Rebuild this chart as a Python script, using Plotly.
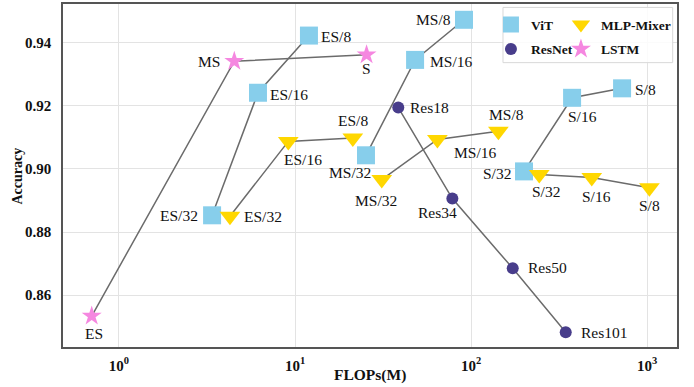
import numpy as np
import plotly.graph_objects as go

# ---------------- data ----------------
vit_labels = ["ES/32", "ES/16", "ES/8", "MS/32", "MS/16", "MS/8", "S/32", "S/16", "S/8"]
vit_flops = [3.38, 6.16, 12.0, 25.3, 48.1, 91.2, 200, 375, 721]
vit_acc = [0.8853, 0.9241, 0.9422, 0.9043, 0.9345, 0.9472, 0.8992, 0.9225, 0.9255]

mlp_labels = ["ES/32", "ES/16", "ES/8", "MS/32", "MS/16", "MS/8", "S/32", "S/16", "S/8"]
mlp_flops = [4.27, 9.16, 21.3, 31.1, 64.4, 143, 244, 485, 1031]
mlp_acc = [0.8850, 0.9087, 0.9098, 0.8966, 0.9093, 0.9119, 0.8982, 0.8973, 0.8940]

res_labels = ["Res18", "Res34", "Res50", "Res101"]
res_flops = [38.6, 78.3, 172.5, 345]
res_acc = [0.9194, 0.8906, 0.8685, 0.8483]

lstm_labels = ["ES", "MS", "S"]
lstm_flops = [0.70, 4.52, 25.5]
lstm_acc = [0.8534, 0.9341, 0.9361]

x_tickvals = [1, 10, 100, 1000]
x_ticktext = ["10<sup>0</sup>", "10<sup>1</sup>", "10<sup>2</sup>", "10<sup>3</sup>"]
y_tickvals = [0.86, 0.88, 0.90, 0.92, 0.94]

# ---------------- styling (label offsets in px: anchor, dx, dy) ----------------
SERIF = "Liberation Serif"
LINE = dict(color="#6b6b6b", width=1.5)

vit_off = {
    "ES/32": ("right", -12, 0), "ES/16": ("left", 10, -2), "ES/8": ("left", 10, -1),
    "MS/32": ("center", -16, -17), "MS/16": ("left", 13, -2), "MS/8": ("right", -11, 0),
    "S/32": ("right", -11, -2), "S/16": ("center", 10, -19), "S/8": ("left", 11, -1),
}
mlp_off = {
    "ES/32": ("left", 12, 0), "ES/16": ("center", 15, -18), "ES/8": ("center", 0, 17),
    "MS/32": ("center", -6, -21), "MS/16": ("center", 38, -13), "MS/8": ("center", 8, 17),
    "S/32": ("center", 7, -17), "S/16": ("center", 5, -19), "S/8": ("center", 0, -18),
}
res_off = {
    "Res18": ("left", 10, 0), "Res34": ("center", -15, -14),
    "Res50": ("left", 13, 1), "Res101": ("left", 13, 0),
}
lstm_off = {
    "ES": ("center", 2, -17), "MS": ("right", -12, 0), "S": ("center", 0, -14),
}


def split_groups(xs, ys, groups):
    """Insert None breaks between groups of consecutive points."""
    ox, oy = [], []
    for gi, g in enumerate(groups):
        if gi:
            ox.append(None)
            oy.append(None)
        for i in g:
            ox.append(xs[i])
            oy.append(ys[i])
    return ox, oy


fig = go.Figure()

series = [
    ("ViT", vit_flops, vit_acc, [[0, 1, 2], [3, 4, 5], [6, 7, 8]],
     dict(symbol="square", size=18, color="#87CEEB"), "legend", "g1"),
    ("MLP-Mixer", mlp_flops, mlp_acc, [[0, 1, 2], [3, 4, 5], [6, 7, 8]],
     dict(symbol="triangle-down", size=18, color="#FFD700"), "legend2", "g2"),
    ("ResNet", res_flops, res_acc, [[0, 1, 2, 3]],
     dict(symbol="circle", size=12, color="#483D8B"), "legend", "g3"),
    ("LSTM", lstm_flops, lstm_acc, [[0, 1, 2]],
     dict(symbol="star", size=15, color="#F587E0"), "legend2", "g4"),
]

# connecting lines first (below all markers)
for name, fx, fy, groups, mk, lg, grp in series:
    gx, gy = split_groups(fx, fy, groups)
    fig.add_trace(go.Scatter(
        x=gx, y=gy, mode="lines", line=LINE, showlegend=False,
        connectgaps=False, hoverinfo="skip",
    ))

# markers
for name, fx, fy, groups, mk, lg, grp in series:
    fig.add_trace(go.Scatter(
        x=fx, y=fy, mode="markers", name=name,
        marker=dict(line=dict(width=0), **mk),
        legend=lg, legendgroup=grp,
    ))

annotations = []
for labels, fx, fy, offs in [
    (vit_labels, vit_flops, vit_acc, vit_off),
    (mlp_labels, mlp_flops, mlp_acc, mlp_off),
    (res_labels, res_flops, res_acc, res_off),
    (lstm_labels, lstm_flops, lstm_acc, lstm_off),
]:
    for lab, xv, yv in zip(labels, fx, fy):
        anc, dx, dy = offs[lab]
        annotations.append(dict(
            x=np.log10(xv), y=yv, xref="x", yref="y", text=lab, showarrow=False,
            xanchor=anc, yanchor="middle", xshift=dx, yshift=dy,
            font=dict(family=SERIF, size=15.5, color="#111111"),
        ))

TITLE_FONT = dict(family=SERIF, size=15.5, weight="bold", color="#111111")
annotations.append(dict(
    x=0.5, y=-0.0816, xref="paper", yref="paper", text="FLOPs(M)",
    showarrow=False, xanchor="center", yanchor="middle", font=TITLE_FONT,
))
annotations.append(dict(
    x=-0.0733, y=0.5, xref="paper", yref="paper", text="Accuracy", textangle=-90,
    showarrow=False, xanchor="center", yanchor="middle",
    font=dict(family=SERIF, size=14, weight="bold", color="#111111"),
))

LEG_FONT = dict(family=SERIF, size=13.5, weight="bold", color="#111111")

fig.update_layout(
    width=694, height=387,
    margin=dict(l=63, r=17, t=4, b=40, autoexpand=False),
    paper_bgcolor="white", plot_bgcolor="white",
    font=dict(family=SERIF, color="#111111"),
    annotations=annotations,
    showlegend=True,
    legend=dict(
        x=0.697, y=0.985, xanchor="left", yanchor="top",
        bgcolor="rgba(0,0,0,0)", borderwidth=0, tracegroupgap=4,
        itemwidth=30, font=LEG_FONT,
    ),
    legend2=dict(
        x=0.811, y=0.985, xanchor="left", yanchor="top",
        bgcolor="rgba(0,0,0,0)", borderwidth=0, tracegroupgap=4,
        itemwidth=30, font=LEG_FONT,
    ),
    shapes=[dict(
        type="rect", xref="paper", yref="paper",
        x0=0.7166, x1=0.993, y0=0.829, y1=0.990,
        line=dict(color="#d8d8d8", width=1), fillcolor="rgba(255,255,255,0.85)",
        layer="above",
    )],
)

fig.update_xaxes(
    type="log", range=[-0.318, 3.170],
    tickvals=x_tickvals, ticktext=x_ticktext,
    tickfont=dict(family=SERIF, size=15, weight="bold", color="#111111"),
    showgrid=True, gridcolor="#e3e3e3", gridwidth=1,
    showline=True, linecolor="#555555", linewidth=1.5, mirror=True,
    ticks="", ticklabelstandoff=4, zeroline=False, automargin=False,
)
fig.update_yaxes(
    range=[0.8436, 0.9522],
    tickvals=y_tickvals, tickformat=".2f",
    tickfont=dict(family=SERIF, size=15, weight="bold", color="#111111"),
    showgrid=True, gridcolor="#e3e3e3", gridwidth=1,
    showline=True, linecolor="#555555", linewidth=1.5, mirror=True,
    ticks="", ticklabelstandoff=7, zeroline=False, automargin=False,
)

fig.write_html("out.html", config={"displayModeBar": False},
               post_script="document.body.style.margin='0';")
